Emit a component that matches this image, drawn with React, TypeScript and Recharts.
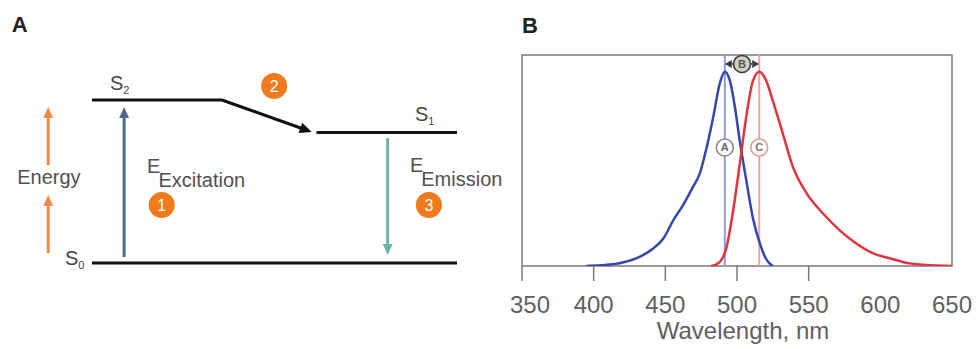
import React from 'react';
import {
  ComposedChart,
  LineChart,
  Line,
  XAxis,
  YAxis,
  ReferenceLine,
  ReferenceDot,
  ReferenceArea,
  Label,
} from 'recharts';

const FONT = '"Liberation Sans", Arial, Helvetica, sans-serif';

// ---- panel A: energy diagram (x in diagram units 0-100, energy relative to S2) ----
const levelNames = ['0', '1', '2'];
const levelEnergy = [0, 0.8, 1];
const levelStart = [0, 61.5, 0];
const levelEnd = [100, 100, 35.6];
const levelLabelX = [-7.4, 88.5, 4.9];
const levelLabelE = [-0.012, 0.87, 1.06];

const transitions = [
  { key: 'excitation', x: 8.8, from: 0.037, to: 0.957, color: '#4f6b8e' },
  { key: 'emission', x: 81, from: 0.767, to: 0.049, color: '#6ab4aa' },
  { key: 'energy-low', x: -12, from: 0.061, to: 0.417, color: '#f08a4c' },
  { key: 'energy-high', x: -12, from: 0.6, to: 0.957, color: '#f08a4c' },
];

const energyLabels = [
  { sub: 'Excitation', x: 15.1, e: 0.552 },
  { sub: 'Emission', x: 87.1, e: 0.558 },
];

const steps = [
  { n: '1', x: 19.1, e: 0.356 },
  { n: '2', x: 49.9, e: 1.086 },
  { n: '3', x: 92.3, e: 0.356 },
];

// level lines as series: one row per x where a level starts or ends
const levelRows = Array.from(new Set([...levelStart, ...levelEnd]))
  .sort((a, b) => a - b)
  .map((x) => {
    const row: Record<string, number | null> = { x };
    levelNames.forEach((n, i) => {
      row[`s${n}`] = x === levelStart[i] || x === levelEnd[i] ? levelEnergy[i] : null;
    });
    return row;
  });

// ---- panel B: spectra ----
const excitationNm = [395, 405, 418, 430, 441.5, 448.5, 455.5, 462.5, 469.5, 474, 478.5, 483.5, 488, 491.5, 495, 498.5, 502, 506.5, 511, 516, 520, 525];
const excitationValue = [0, 0.4, 1.4, 4, 9, 14, 23.5, 31.5, 41, 47.5, 60, 77, 94, 100, 95.5, 82, 64, 44, 25, 11.5, 4, 0];
const emissionNm = [482, 486, 489, 492.5, 497, 502, 506.5, 511, 515.5, 520, 525, 532, 539, 548.5, 560, 571.5, 583, 595, 606.5, 618, 632, 650];
const emissionValue = [0, 1, 3, 9, 27, 53, 77, 95, 100, 96, 85, 68, 51, 37.5, 27, 18.5, 11.7, 6.5, 4, 1.7, 0.5, 0];
const wavelengthTicks = [350, 400, 450, 500, 550, 600, 650];
const tickMarks = [350, 400, 450, 500, 550];
const excitationPeak = 491.5;
const emissionPeak = 515.5;
const yMax = 108.6;

const spectra = Array.from(new Set([...excitationNm, ...emissionNm]))
  .sort((a, b) => a - b)
  .map((nm) => {
    const i = excitationNm.indexOf(nm);
    const j = emissionNm.indexOf(nm);
    return {
      nm,
      excitation: i >= 0 ? excitationValue[i] : null,
      emission: j >= 0 ? emissionValue[j] : null,
    };
  });

const arrowShape = (color: string, width: number, head = 10) => (p: any) => {
  const { x1, y1, x2, y2 } = p;
  const len = Math.hypot(x2 - x1, y2 - y1) || 1;
  const ux = (x2 - x1) / len;
  const uy = (y2 - y1) / len;
  const bx = x2 - ux * head;
  const by = y2 - uy * head;
  const hw = head * 0.45;
  return (
    <g>
      <line x1={x1} y1={y1} x2={bx + ux * 1} y2={by + uy * 1} stroke={color} strokeWidth={width} />
      <polygon
        points={`${x2},${y2} ${bx - uy * hw},${by + ux * hw} ${bx + uy * hw},${by - ux * hw}`}
        fill={color}
      />
    </g>
  );
};

const doubleArrowShape = (p: any) => {
  const { x1, y1, x2 } = p;
  const h = 7;
  return (
    <g>
      <line x1={x1 + h} y1={y1} x2={x2 - h} y2={y1} stroke="#3c3c3c" strokeWidth={1.5} />
      <polygon points={`${x1},${y1} ${x1 + h},${y1 - 4} ${x1 + h},${y1 + 4}`} fill="#3c3c3c" />
      <polygon points={`${x2},${y1} ${x2 - h},${y1 - 4} ${x2 - h},${y1 + 4}`} fill="#3c3c3c" />
    </g>
  );
};

const letterMarker = (letter: string, stroke: string, fill: string, color: string) => (p: any) => (
  <g>
    <circle cx={p.cx} cy={p.cy} r={8.5} fill={fill} stroke={stroke} strokeWidth={1.6} />
    <text x={p.cx} y={p.cy} dy="0.36em" textAnchor="middle" fontSize={11} fontWeight="bold" fill={color} fontFamily={FONT}>
      {letter}
    </text>
  </g>
);

const WaveTick = (props: any) => {
  const { x, y, payload } = props;
  const v = payload.value;
  return (
    <g>
      {tickMarks.includes(v) && <line x1={x} x2={x} y1={y} y2={y + 15} stroke="#7a7a7a" strokeWidth={1.5} />}
      <text x={x + (v === 350 ? 8 : 0)} y={y + 47} textAnchor="middle" fontSize={24} fill="#606060" fontFamily={FONT}>
        {v}
      </text>
    </g>
  );
};

const EnergyDiagram = () => (
  <ComposedChart
    width={512}
    height={349}
    data={levelRows}
    margin={{ top: 100, right: 55, bottom: 86, left: 92 }}
  >
    <XAxis type="number" dataKey="x" domain={[0, 100]} hide />
    <YAxis type="number" domain={[0, 1]} hide />

    {levelNames.map((n) => (
      <Line
        key={`level-${n}`}
        type="linear"
        dataKey={`s${n}`}
        stroke="#111"
        strokeWidth={3}
        dot={false}
        activeDot={false}
        connectNulls
        isAnimationActive={false}
      />
    ))}

    {/* panel letter */}
    <ReferenceDot
      x={-22}
      y={1.42}
      ifOverflow="visible"
      shape={(p: any) => (
        <text x={p.cx} y={p.cy} fontSize={22} fontWeight="bold" fill="#222" fontFamily={FONT}>A</text>
      )}
    />

    {/* internal conversion S2 -> S1 */}
    <ReferenceLine
      segment={[{ x: levelEnd[2], y: levelEnergy[2] }, { x: levelStart[1] - 1.3, y: levelEnergy[1] + 0.004 }]}
      ifOverflow="visible"
      shape={arrowShape('#111', 3, 12)}
    />

    {transitions.map((t) => (
      <ReferenceLine
        key={t.key}
        segment={[{ x: t.x, y: t.from }, { x: t.x, y: t.to }]}
        ifOverflow="visible"
        shape={arrowShape(t.color, 3, 11)}
      />
    ))}

    {levelNames.map((n, i) => (
      <ReferenceDot
        key={`label-${n}`}
        x={levelLabelX[i]}
        y={levelLabelE[i]}
        ifOverflow="visible"
        shape={(p: any) => (
          <text x={p.cx} y={p.cy} fontSize={20} fill="#444" fontFamily={FONT}>
            S<tspan fontSize={11} dy={4}>{n}</tspan>
          </text>
        )}
      />
    ))}

    <ReferenceDot
      x={-11.8}
      y={0.485}
      ifOverflow="visible"
      shape={(p: any) => (
        <text x={p.cx} y={p.cy} textAnchor="middle" fontSize={20} fill="#505050" fontFamily={FONT}>Energy</text>
      )}
    />

    {energyLabels.map((l) => (
      <ReferenceDot
        key={l.sub}
        x={l.x}
        y={l.e}
        ifOverflow="visible"
        shape={(p: any) => (
          <text x={p.cx} y={p.cy} fontSize={20} fill="#505050" fontFamily={FONT}>
            E<tspan dx={-2} dy={13.5}>{l.sub}</tspan>
          </text>
        )}
      />
    ))}

    {steps.map((s) => (
      <ReferenceDot
        key={s.n}
        x={s.x}
        y={s.e}
        ifOverflow="visible"
        shape={(p: any) => (
          <g>
            <circle cx={p.cx} cy={p.cy} r={13} fill="#f07a1c" />
            <text x={p.cx} y={p.cy} dy="0.36em" textAnchor="middle" fontSize={16} fill="#fff" fontFamily={FONT}>{s.n}</text>
          </g>
        )}
      />
    ))}
  </ComposedChart>
);

const SpectraChart = () => (
  <LineChart width={477} height={349} data={spectra} margin={{ top: 55, right: 25, bottom: 0, left: 22 }}>
    <XAxis
      type="number"
      dataKey="nm"
      domain={[350, 650]}
      ticks={wavelengthTicks}
      allowDataOverflow
      axisLine={false}
      tickLine={false}
      tickSize={0}
      tickMargin={0}
      height={83}
      interval={0}
      tick={<WaveTick />}
    >
      <Label
        content={({ viewBox }: any) => (
          <text x={viewBox.x + viewBox.width / 2 + 6} y={viewBox.y + 73} textAnchor="middle" fontSize={24} fill="#606060" fontFamily={FONT}>
            Wavelength, nm
          </text>
        )}
      />
    </XAxis>
    <YAxis type="number" domain={[0, yMax]} hide allowDataOverflow />

    <ReferenceDot
      x={350}
      y={120}
      ifOverflow="visible"
      shape={(p: any) => (
        <text x={p.cx} y={p.cy} fontSize={22} fontWeight="bold" fill="#222" fontFamily={FONT}>B</text>
      )}
    />

    <ReferenceArea x1={350} x2={650} y1={0} y2={yMax} fill="none" stroke="#7a7a7a" strokeWidth={1.5} ifOverflow="visible" />
    <ReferenceLine x={excitationPeak} stroke="#8e9ddc" strokeWidth={2} />
    <ReferenceLine x={emissionPeak} stroke="#f0a3a3" strokeWidth={2} />

    <Line type="monotone" dataKey="excitation" stroke="#3547aa" strokeWidth={2.5} dot={false} connectNulls isAnimationActive={false} />
    <Line type="monotone" dataKey="emission" stroke="#e0353f" strokeWidth={2.5} dot={false} connectNulls isAnimationActive={false} />

    <ReferenceLine
      segment={[{ x: excitationPeak, y: 104 }, { x: emissionPeak, y: 104 }]}
      ifOverflow="visible"
      shape={doubleArrowShape}
    />
    <ReferenceDot x={(excitationPeak + emissionPeak) / 2} y={104} ifOverflow="visible" shape={letterMarker('B', '#3c3c3c', '#cfd0c4', '#555')} />
    <ReferenceDot x={excitationPeak} y={61} ifOverflow="visible" shape={letterMarker('A', '#8a8a8a', '#fff', '#666')} />
    <ReferenceDot x={emissionPeak} y={61} ifOverflow="visible" shape={letterMarker('C', '#e39a9a', '#fff', '#777')} />
  </LineChart>
);

export default function App() {
  return (
    <div style={{ position: 'absolute', left: 0, top: 0, width: 977, height: 349, background: '#fff', fontFamily: FONT }}>
      <div style={{ position: 'absolute', left: 500, top: 0 }}>
        <SpectraChart />
      </div>
      <div style={{ position: 'absolute', left: 0, top: 0 }}>
        <EnergyDiagram />
      </div>
    </div>
  );
}
